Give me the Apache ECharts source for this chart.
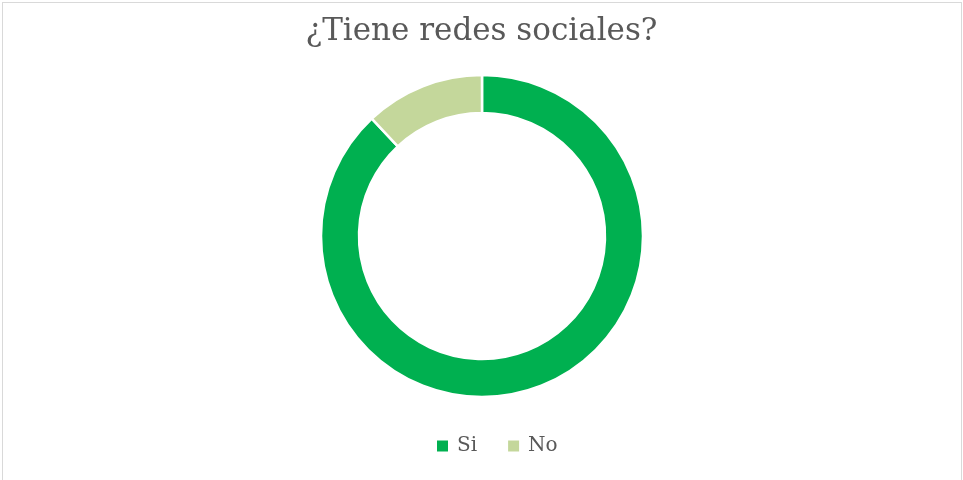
<!DOCTYPE html>
<html>
<head>
<meta charset="utf-8">
<script src="https://cdn.jsdelivr.net/npm/echarts@6/dist/echarts.min.js"></script>
<style>
    html, body { margin: 0; padding: 0; background: #fff; }
    #frame {
        position: absolute; left: 2px; top: 2px; width: 960px; height: 490px;
        border: 1px solid #d9d9d9; box-sizing: border-box;
    }
    #chart { position: absolute; left: 0; top: 0; width: 963px; height: 480px; }
</style>
</head>
<body>
<div id="frame"></div>
<div id="chart"></div>
<script>
// datos
const categorias = ['Si', 'No'];
const valores = [88, 12];
const colores = ['#00B050', '#C4D79B'];

const mChart = echarts.init(document.getElementById('chart'));

const options = {
    title: {
        text: '¿Tiene redes sociales?',
        left: 'center',
        top: 10,
        textStyle: {
            color: '#595959',
            fontFamily: 'DejaVu Serif',
            fontWeight: 'normal',
            fontSize: 31,
            lineHeight: 34
        }
    },
    legend: {
        data: categorias,
        top: 430,
        left: 430,
        icon: 'rect',
        itemWidth: 13,
        itemHeight: 13,
        itemGap: 29,
        textStyle: {
            color: '#595959',
            fontFamily: 'DejaVu Serif',
            fontSize: 20,
            lineHeight: 22,
            padding: [0, 0, 0, 3]
        }
    },
    series: [
        {
            type: 'pie',
            center: [482, 236],
            radius: [123, 161],
            startAngle: 90,
            clockwise: true,
            label: { show: false },
            labelLine: { show: false },
            silent: true,
            itemStyle: {
                borderColor: '#fff',
                borderWidth: 2.5
            },
            data: categorias.map((c, i) => ({
                name: c,
                value: valores[i],
                itemStyle: { color: colores[i] }
            }))
        }
    ]
};

mChart.setOption(options);
</script>
</body>
</html>
